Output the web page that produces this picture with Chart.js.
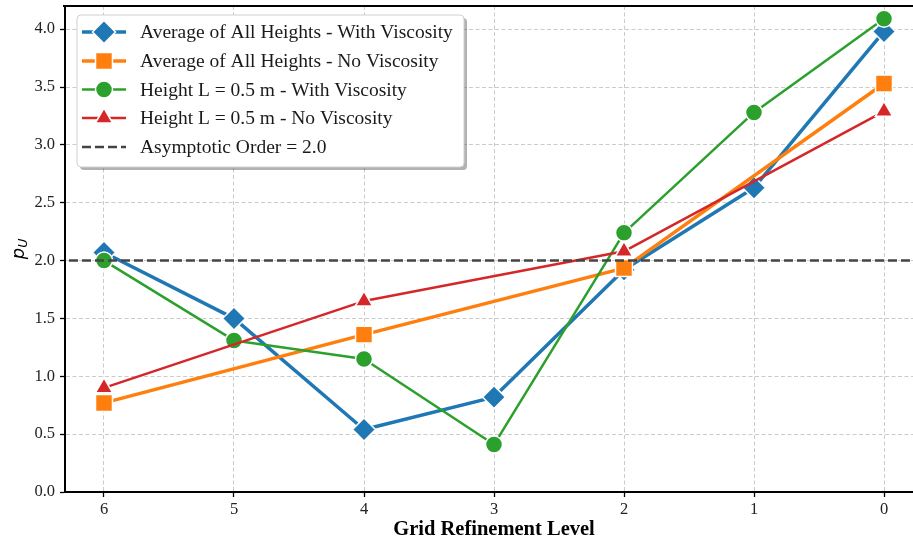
<!DOCTYPE html>
<html>
<head>
<meta charset="utf-8">
<script src="https://cdn.jsdelivr.net/npm/chart.js@4/dist/chart.umd.min.js"></script>
<style>
  html, body { margin: 0; padding: 0; background: #fff; overflow: hidden; }
  #wrap { width: 913px; height: 544px; overflow: hidden; position: relative; }
  #box { width: 930px; height: 544px; position: absolute; left: 0; top: 0; }
</style>
</head>
<body>
<div id="wrap"><div id="box"><canvas id="c"></canvas></div></div>
<script>
// Grid refinement levels (finest = 0) and observed orders of accuracy p_U
const levels = [6, 5, 4, 3, 2, 1, 0];
const avgWithViscosity = [2.07, 1.50, 0.54, 0.82, 1.92, 2.63, 3.98];
const avgNoViscosity   = [0.77, null, 1.36, null, 1.935, null, 3.53];
const h05WithViscosity = [2.00, 1.31, 1.15, 0.41, 2.24, 3.28, 4.09];
const h05NoViscosity   = [0.90, null, 1.65, null, 2.08, null, 3.29];
const asymptoticOrder = 2.0;

const seriesNames = [
  'Average of All Heights - With Viscosity',
  'Average of All Heights - No Viscosity',
  'Height L = 0.5 m - With Viscosity',
  'Height L = 0.5 m - No Viscosity',
  'Asymptotic Order = 2.0'
];

const X_MIN = -0.3, X_MAX = 6.3;
const SERIF = '"Liberation Serif", "Times New Roman", serif';

function toPoints(vals) {
  return levels.map((lv, i) => ({ x: lv, y: vals[i] }));
}

function seriesStyle(color, style, radius, width, order) {
  return {
    borderColor: color,
    backgroundColor: color,
    borderWidth: width,
    borderJoinStyle: 'round',
    pointStyle: style,
    pointRadius: radius,
    pointBackgroundColor: color,
    pointBorderColor: '#ffffff',
    pointBorderWidth: 1.5,
    spanGaps: true,
    order: order
  };
}

const datasets = [
  Object.assign({ label: seriesNames[0], data: toPoints(avgWithViscosity) },
    seriesStyle('#1f77b4', 'rectRot', 11.5, 3.5, 4)),
  Object.assign({ label: seriesNames[1], data: toPoints(avgNoViscosity) },
    seriesStyle('#ff7f0e', 'rect', 12, 3.5, 3)),
  Object.assign({ label: seriesNames[2], data: toPoints(h05WithViscosity) },
    seriesStyle('#2ca02c', 'circle', 8.5, 2.5, 2)),
  Object.assign({ label: seriesNames[3], data: toPoints(h05NoViscosity) },
    seriesStyle('#d62728', 'triangle', 10, 2.5, 1)),
  {
    label: seriesNames[4],
    data: [{ x: X_MIN, y: asymptoticOrder }, { x: X_MAX, y: asymptoticOrder }],
    borderColor: '#444444',
    borderWidth: 2.5,
    borderDash: [9, 4],
    pointRadius: 0,
    order: 0
  }
];

// Marker glyph for the legend, drawn with Chart.js' own point renderer
function drawMarker(ctx, ds, x, y) {
  if (!ds.pointStyle || !ds.pointRadius) return;
  ctx.save();
  ctx.fillStyle = ds.pointBackgroundColor;
  ctx.strokeStyle = ds.pointBorderColor;
  ctx.lineWidth = ds.pointBorderWidth;
  ctx.setLineDash([]);
  Chart.helpers.drawPoint(ctx, {
    pointStyle: ds.pointStyle, radius: ds.pointRadius, rotation: 0,
    borderWidth: ds.pointBorderWidth
  }, x, y);
  ctx.restore();
}

function roundRect(ctx, x, y, w, h, r) {
  ctx.beginPath();
  ctx.moveTo(x + r, y);
  ctx.lineTo(x + w - r, y);
  ctx.arcTo(x + w, y, x + w, y + r, r);
  ctx.lineTo(x + w, y + h - r);
  ctx.arcTo(x + w, y + h, x + w - r, y + h, r);
  ctx.lineTo(x + r, y + h);
  ctx.arcTo(x, y + h, x, y + h - r, r);
  ctx.lineTo(x, y + r);
  ctx.arcTo(x, y, x + r, y, r);
  ctx.closePath();
}

const decorations = {
  id: 'decorations',
  afterDraw(chart) {
    const ctx = chart.ctx;
    const area = chart.chartArea;

    // top spine
    ctx.save();
    ctx.strokeStyle = '#000';
    ctx.lineWidth = 2;
    ctx.beginPath();
    ctx.moveTo(area.left - 2, area.top);
    ctx.lineTo(chart.width, area.top);
    ctx.stroke();
    ctx.restore();

    // y-axis title: p with subscript U
    ctx.save();
    ctx.translate(24, 249);
    ctx.rotate(-Math.PI / 2);
    ctx.fillStyle = '#000';
    ctx.textBaseline = 'alphabetic';
    ctx.font = 'italic 18px "DejaVu Sans", sans-serif';
    const pw = ctx.measureText('p').width;
    ctx.font = 'italic 12.5px "DejaVu Sans", sans-serif';
    const uw = ctx.measureText('U').width;
    const total = pw + uw;
    ctx.font = 'italic 18px "DejaVu Sans", sans-serif';
    ctx.fillText('p', -total / 2, 0);
    ctx.font = 'italic 12.5px "DejaVu Sans", sans-serif';
    ctx.fillText('U', -total / 2 + pw, 3);
    ctx.restore();

    // legend box
    const bx = 77, by = 15, bw = 387, bh = 152;
    ctx.save();
    ctx.fillStyle = 'rgba(0,0,0,0.3)';
    roundRect(ctx, bx + 3, by + 3, bw, bh, 4);
    ctx.fill();
    ctx.fillStyle = '#ffffff';
    roundRect(ctx, bx, by, bw, bh, 4);
    ctx.fill();
    ctx.strokeStyle = '#d0d0d0';
    ctx.lineWidth = 1;
    ctx.stroke();
    ctx.restore();

    const rowY = [32, 61, 89.5, 118, 147];
    const sx0 = 82, sx1 = 126, sxm = 104, tx = 140;
    datasets.forEach((ds, i) => {
      const y = rowY[i];
      ctx.save();
      ctx.strokeStyle = ds.borderColor;
      ctx.lineWidth = ds.borderWidth;
      ctx.setLineDash(ds.borderDash || []);
      ctx.beginPath();
      ctx.moveTo(sx0, y);
      ctx.lineTo(sx1, y);
      ctx.stroke();
      ctx.restore();
      drawMarker(ctx, ds, sxm, y);
      ctx.save();
      ctx.fillStyle = '#1a1a1a';
      ctx.font = '19.5px ' + SERIF;
      ctx.textBaseline = 'middle';
      ctx.textAlign = 'left';
      ctx.fillText(ds.label, tx, y + 1);
      ctx.restore();
    });
  }
};

const gridStyle = {
  color: 'rgba(190,190,190,0.8)',
  lineWidth: 1,
  drawTicks: true,
  tickLength: 5,
  tickColor: '#000',
  tickWidth: 1.3,
  tickBorderDash: []
};
const axisBorder = { display: true, color: '#000', width: 2, dash: [4, 2.5] };

new Chart(document.getElementById('c'), {
  type: 'line',
  data: { datasets: datasets },
  options: {
    responsive: true,
    maintainAspectRatio: false,
    animation: false,
    events: [],
    layout: { autoPadding: false, padding: { left: 0, right: 7, top: 6, bottom: 0 } },
    plugins: { legend: { display: false }, tooltip: { enabled: false } },
    scales: {
      x: {
        type: 'linear',
        reverse: true,
        min: X_MIN,
        max: X_MAX,
        afterFit(scale) { scale.height = 52; scale.paddingLeft = 0; scale.paddingRight = 0; },
        grid: gridStyle,
        border: axisBorder,
        ticks: {
          stepSize: 1,
          includeBounds: false,
          padding: 3,
          maxRotation: 0,
          color: '#222',
          font: { family: SERIF, size: 16.5 },
          callback: v => String(v)
        },
        title: {
          display: true,
          text: 'Grid Refinement Level',
          color: '#000',
          font: { family: SERIF, size: 20.5, weight: 'bold' },
          padding: { top: 0, bottom: 2 }
        }
      },
      y: {
        type: 'linear',
        min: 0,
        max: 4.2,
        afterFit(scale) { scale.width = 65; scale.paddingTop = 0; scale.paddingBottom = 0; },
        grid: gridStyle,
        border: axisBorder,
        ticks: {
          stepSize: 0.5,
          includeBounds: false,
          padding: 5,
          color: '#222',
          font: { family: SERIF, size: 16.5 },
          callback: v => Number(v).toFixed(1)
        }
      }
    }
  },
  plugins: [decorations]
});
</script>
</body>
</html>
